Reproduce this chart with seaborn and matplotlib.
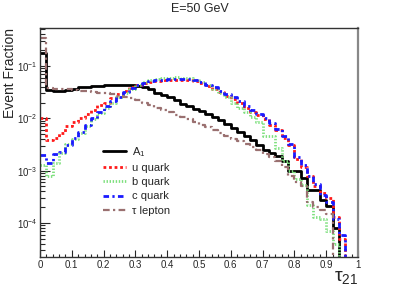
import numpy as np
import pandas as pd
import matplotlib
matplotlib.use("Agg")
import matplotlib.pyplot as plt
import seaborn as sns
from matplotlib.ticker import MultipleLocator, LogLocator, NullFormatter

# ---- data (bin contents, 50 bins of width 0.02 on [0,1]) ----
n_bins = 50
x_range = (0.0, 1.0)

a1 = [0.178, 0.035, 0.033, 0.033, 0.035, 0.037, 0.039, 0.039, 0.042, 0.042,
      0.043, 0.044, 0.044, 0.044, 0.043, 0.041, 0.039, 0.036, 0.031, 0.028,
      0.025, 0.022, 0.019, 0.017, 0.015, 0.0137, 0.0122, 0.0105, 0.0092, 0.0078,
      0.0066, 0.0055, 0.0046, 0.0038, 0.0031, 0.0025, 0.0022, 0.0019, 0.0015, 0.00098,
      0.0010, 0.00072, 0.00043, 0.00043, 0.00027, 0.00021, 0.00008, 0.0, 0.0, 0.0]

u_quark = [0.0102, 0.0039, 0.0043, 0.0052, 0.0070, 0.0084, 0.0102, 0.012, 0.0145, 0.0177,
           0.020, 0.0245, 0.029, 0.034, 0.039, 0.044, 0.047, 0.050, 0.052, 0.053,
           0.054, 0.055, 0.055, 0.054, 0.051, 0.047, 0.042, 0.037, 0.032, 0.027,
           0.023, 0.0195, 0.016, 0.0135, 0.0115, 0.0095, 0.0075, 0.006, 0.0042, 0.0031,
           0.0017, 0.0012, 0.0008, 0.00052, 0.00038, 0.0003, 0.00013, 0.00005, 0.0, 0.0]

b_quark = [0.0013, 0.0008, 0.0014, 0.0022, 0.0032, 0.0040, 0.0052, 0.0070, 0.0095, 0.0125,
           0.016, 0.020, 0.025, 0.031, 0.037, 0.043, 0.049, 0.053, 0.056, 0.058,
           0.060, 0.061, 0.060, 0.058, 0.055, 0.050, 0.043, 0.036, 0.030, 0.025,
           0.020, 0.016, 0.013, 0.0105, 0.0085, 0.0046, 0.0046, 0.0027, 0.0015, 0.0010,
           0.0007, 0.00054, 0.00022, 0.00013, 0.00012, 0.00007, 0.00004, 0.0, 0.0, 0.0]

c_quark = [0.0020, 0.0014, 0.0021, 0.0023, 0.0031, 0.0042, 0.0056, 0.0076, 0.0102, 0.013,
           0.017, 0.021, 0.026, 0.032, 0.038, 0.044, 0.048, 0.051, 0.053, 0.055,
           0.056, 0.057, 0.057, 0.056, 0.053, 0.049, 0.044, 0.039, 0.034, 0.029,
           0.025, 0.021, 0.0175, 0.0145, 0.012, 0.010, 0.008, 0.0063, 0.0045, 0.0033,
           0.0018, 0.0013, 0.0008, 0.00055, 0.00035, 0.00025, 0.00012, 0.00006, 0.0, 0.0]

tau_lepton = [0.35, 0.038, 0.037, 0.036, 0.036, 0.035, 0.034, 0.033, 0.032, 0.031,
              0.030, 0.029, 0.027, 0.026, 0.024, 0.022, 0.020, 0.018, 0.016, 0.0145,
              0.013, 0.0118, 0.0105, 0.0095, 0.0085, 0.0076, 0.0068, 0.006, 0.0052, 0.0046,
              0.0041, 0.0037, 0.0032, 0.0028, 0.0025, 0.0021, 0.0018, 0.0015, 0.0012, 0.0008,
              0.0006, 0.0005, 0.00025, 0.0002, 0.00018, 0.00015, 0.0, 0.0, 0.0, 0.0]

labels = ["A$_{1}$", "u quark", "b quark", "c quark", "\u03c4 lepton"]
x_ticks = [0, 0.1, 0.2, 0.3, 0.4, 0.5, 0.6, 0.7, 0.8, 0.9, 1]
x_tick_labels = ["0", "0.1", "0.2", "0.3", "0.4", "0.5", "0.6", "0.7", "0.8", "0.9", "1"]
title = "E=50 GeV"

# ---- style ----
sns.set_style("ticks")
plt.rcParams["font.family"] = ["Liberation Sans", "DejaVu Sans"]
plt.rcParams["mathtext.default"] = "regular"
plt.rcParams["axes.linewidth"] = 1.0

styles = [
    dict(color="black", lw=2.0, linestyle="solid"),
    dict(color="#ff1a1a", lw=2.0, linestyle=(0, (1.0, 1.0))),
    dict(color="#7ee07e", lw=2.0, linestyle=(0, (0.5, 0.6))),
    dict(color="#1a1aff", lw=2.0, linestyle=(0, (2.0, 1.2, 0.8, 1.2))),
    dict(color="#9a7070", lw=1.6, linestyle=(0, (3.0, 1.5, 1.0, 1.5))),
]

fig = plt.figure(figsize=(3.99, 2.86), dpi=100)
ax = fig.add_axes([40 / 399, 1 - 257 / 286, 318 / 399, (257 - 28) / 286])

width = (x_range[1] - x_range[0]) / n_bins
centers = x_range[0] + width * (np.arange(n_bins) + 0.5)
series = [a1, u_quark, b_quark, c_quark, tau_lepton]
for vals, lab, st in zip(series, labels, styles):
    df = pd.DataFrame({"tau21": centers, "w": np.clip(np.asarray(vals, float), 1e-9, None)})
    sns.histplot(data=df, x="tau21", weights="w", bins=n_bins, binrange=x_range,
                 element="step", fill=False, ax=ax, label=lab, **st)

ax.set_yscale("log")
ax.set_xlim(0, 1)
ax.set_ylim(2.24e-5, 0.532)

ax.set_xticks(x_ticks)
ax.set_xticklabels(x_tick_labels)
ax.xaxis.set_minor_locator(MultipleLocator(0.02))
ax.yaxis.set_major_locator(LogLocator(base=10, numticks=10))
ax.yaxis.set_minor_locator(LogLocator(base=10, subs=np.arange(2, 10), numticks=20))
ax.yaxis.set_minor_formatter(NullFormatter())

ax.tick_params(axis="x", which="major", direction="in", length=5, width=0.8,
               labelsize=7, pad=2.5, top=False)
ax.tick_params(axis="x", which="minor", direction="in", length=2.5, width=0.8, top=False)
ax.tick_params(axis="y", which="major", direction="in", length=7, width=0.8,
               labelsize=7, pad=2, right=False)
ax.tick_params(axis="y", which="minor", direction="in", length=3.5, width=0.8, right=False)

for s in ["top", "bottom", "left"]:
    ax.spines[s].set_color("#333333")
ax.spines["right"].set_color("#888888")
ax.spines["right"].set_linewidth(1.6)

ax.set_xlabel(r"$\tau_{21}$", loc="right", fontsize=14, labelpad=-1)
ax.set_ylabel("Event Fraction", loc="top", fontsize=10, labelpad=-0.5)

fig.text(0.5, 0.968, title, ha="center", va="center", fontsize=9)

ax.legend(loc="upper left", bbox_to_anchor=(103 / 399, 1 - 145 / 286),
          bbox_transform=fig.transFigure, frameon=False, fontsize=8,
          handlelength=2.1, handletextpad=0.5, labelspacing=0.38, borderpad=0,
          borderaxespad=0)

fig.savefig("out.png", dpi=100)
